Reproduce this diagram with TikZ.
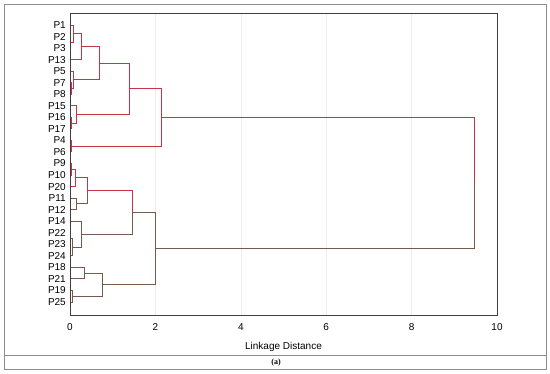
\documentclass[tikz,border=0pt]{standalone}
\usepackage{fontspec}
\setmainfont{Liberation Sans}
\newfontfamily\capfont{Liberation Serif}
\usetikzlibrary{calc}
\definecolor{dred}{RGB}{198,52,72}
\definecolor{dbrown}{RGB}{120,90,74}
\tikzset{
  link/.style={line width=0.9pt},
  leaf/.style={anchor=east, inner sep=0pt, font=\fontsize{10}{12}\selectfont},
  tick/.style={inner sep=0pt, font=\fontsize{10}{12}\selectfont},
  gridline/.style={black!7, line width=0.6pt},
  frame/.style={black!75, line width=0.9pt},
  outer/.style={black!45, line width=0.9pt},
}
% upper child, lower child, distance, name, upper colour, lower colour
\newcommand{\dlink}[6]{%
  \path let \p1=($(#1)!0.5!(#2)$), \p2=({70+42.7*#3},0) in coordinate (#4) at (\x2,\y1);
  \draw[link,#5] (#1) -| (#4);
  \draw[link,#6] (#4) |- (#2);
}

\begin{document}
\begin{tikzpicture}[x=1pt,y=-1pt]
\useasboundingbox (0,0) rectangle (550,373);

\foreach \t in {2,4,6,8}
  \draw[gridline] ({70+42.7*\t},13) -- ({70+42.7*\t},315);

\foreach \lab [count=\i from 0] in {1,2,3,13,5,7,8,15,16,17,4,6,9,10,20,11,12,14,22,23,24,18,21,19,25} {
  \node[leaf] (l\lab) at (66,{25+11.54*\i}) {P\lab};
  \coordinate (p\lab) at (70,{25+11.54*\i});
}

\dlink{p2}{p3}{0.02}{c23}{dred}{dred}
\dlink{p1}{c23}{0.08}{c123}{dred}{dred}
\dlink{c123}{p13}{0.265}{ca}{dred}{dred}
\dlink{p7}{p8}{0.04}{c78}{dred}{dred}
\dlink{p5}{c78}{0.075}{cb}{dred}{dred}
\dlink{ca}{cb}{0.70}{cab}{dred}{dred}
\dlink{p16}{p17}{0.03}{c1617}{dred}{dred}
\dlink{p15}{c1617}{0.157}{cd}{dred}{dred}
\dlink{cab}{cd}{1.40}{cabd}{dred}{dred}
\dlink{p4}{p6}{0.04}{c46}{dred}{dred}
\dlink{cabd}{c46}{2.15}{ctop}{dred}{dred}

\dlink{p9}{p10}{0.04}{c910}{dred}{dred}
\dlink{c910}{p20}{0.125}{ce}{dred}{dred}
\dlink{p11}{p12}{0.14}{cf}{dbrown}{dbrown}
\dlink{ce}{cf}{0.41}{cef}{dred}{dbrown}
\dlink{p22}{p23}{0.02}{c2223}{dbrown}{dbrown}
\dlink{c2223}{p24}{0.06}{ch}{dbrown}{dbrown}
\dlink{p14}{ch}{0.26}{cg}{dbrown}{dbrown}
\dlink{cef}{cg}{1.46}{cefg}{dred}{dbrown}
\dlink{p18}{p21}{0.33}{ci}{dbrown}{dbrown}
\dlink{p19}{p25}{0.05}{c1925}{dbrown}{dbrown}
\dlink{ci}{c1925}{0.77}{cj}{dbrown}{dbrown}
\dlink{cefg}{cj}{1.99}{cbot}{dbrown}{dbrown}
\dlink{ctop}{cbot}{9.48}{root}{dred}{dbrown}

\draw[frame] (70,13) rectangle (497,315);
\foreach \t in {0,2,...,10}
  \node[tick] (t\t) at ({70+42.7*\t},327) {\t};
\node[tick] (xlabel) at (283.5,347) {Linkage Distance};

\draw[outer] (4,4) rectangle (546,369);
\draw[outer, line width=1.6pt] (4,355.5) -- (546,355.5);
\node[inner sep=0pt, font=\capfont\fontsize{8}{9}\selectfont\bfseries] (cap) at (276,362.5) {(a)};
\end{tikzpicture}
\end{document}
